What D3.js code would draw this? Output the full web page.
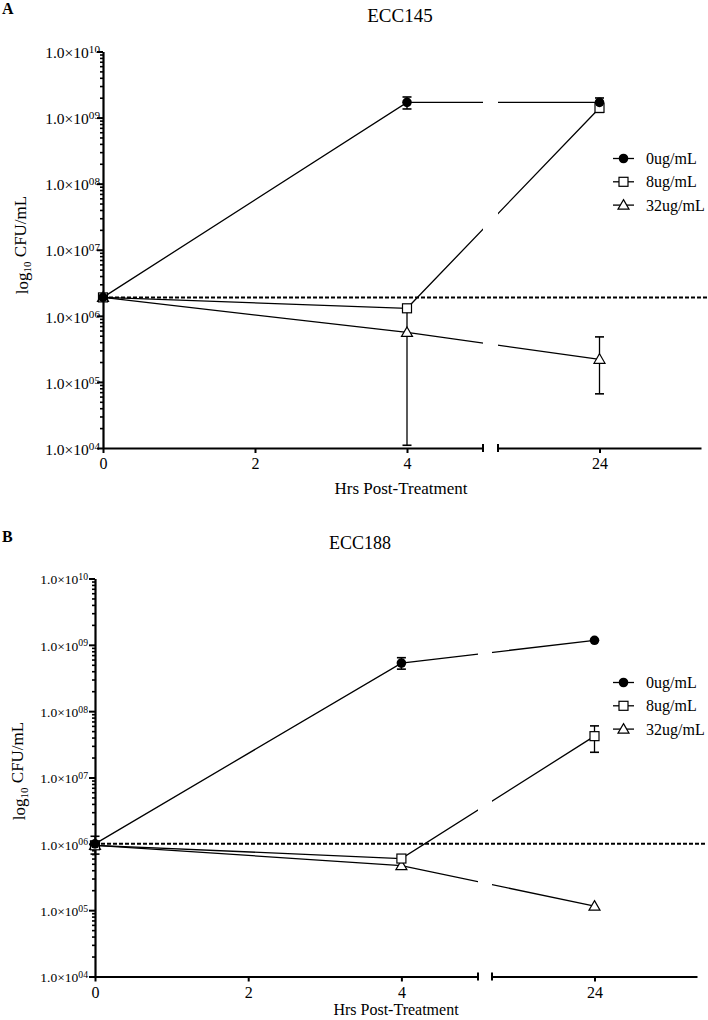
<!DOCTYPE html>
<html><head><meta charset="utf-8">
<script src="https://cdn.jsdelivr.net/npm/d3@7"></script>
<style>
body{margin:0;background:#fff;}
text{font-family:"Liberation Serif","Times New Roman",serif;fill:#000;}
</style></head>
<body><svg id="c" width="708" height="1020"></svg>
<script>
// ---------- data ----------
const hours = [0, 4, 24];
const seriesNames = ["0ug/mL", "8ug/mL", "32ug/mL"];
const yTickValues = [1e4, 1e5, 1e6, 1e7, 1e8, 1e9, 1e10];
const yTickExponents = ["04", "05", "06", "07", "08", "09", "10"];
const xTickValuesLeft = [0, 2, 4];
const xTickValuesRight = [24];

// Panel A : ECC145
const titleA = "ECC145";
const a0 = [1.9e6, 1.7e9, 1.7e9];
const a0Lo = [null, 1.35e9, 1.45e9];
const a0Hi = [null, 2.05e9, 1.98e9];
const a8 = [1.9e6, 1.3e6, 1.4e9];
const a8Lo = [null, null, 1.2e9];
const a8Hi = [null, null, 1.6e9];
const a32 = [1.9e6, 5.6e5, 2.2e5];
const a32Lo = [null, 1.1e4, 6.6e4];
const a32Hi = [null, 1.2e6, 4.8e5];
const baselineA = 1.9e6;

// Panel B : ECC188
const titleB = "ECC188";
const b0 = [1.0e6, 5.3e8, 1.17e9];
const b0Lo = [0.7e6, 4.3e8, null];
const b0Hi = [1.3e6, 6.4e8, null];
const b8 = [0.95e6, 6.0e5, 4.2e7];
const b8Lo = [null, null, 2.4e7];
const b8Hi = [null, null, 6.0e7];
const b32 = [0.95e6, 4.7e5, 1.15e5];
const b32Lo = [null, null, null];
const b32Hi = [null, null, null];
const baselineB = 1.0e6;

// ---------- drawing ----------
const svg = d3.select("#c");

function panel(cfg) {
  const g = svg.append("g");
  const y = d3.scaleLog().domain([1e4, 1e10]).range([cfg.yBot, cfg.yTop]);
  const s1 = d3.scaleLinear().domain([0, 5]).range([cfg.x0, cfg.segEnd]);
  const s2 = d3.scaleLinear().domain([22, 26]).range([cfg.seg2Start, cfg.axisEnd]);
  const x = h => h <= 5 ? s1(h) : s2(h);

  // letter & title
  g.append("text").attr("x", 2).attr("y", cfg.letterY).attr("font-size", 16)
    .attr("font-weight", "bold").text(cfg.letter);
  g.append("text").attr("x", cfg.titleX).attr("y", cfg.titleY).attr("font-size", cfg.titleFont)
    .attr("text-anchor", "middle").text(cfg.title);

  // baseline dashed line
  g.append("line").attr("x1", cfg.x0).attr("x2", 707)
    .attr("y1", y(cfg.baseline)).attr("y2", y(cfg.baseline))
    .attr("stroke", "#000").attr("stroke-width", 2).attr("stroke-dasharray", "4,2");

  // y axis
  const minor = [];
  for (let e = 4; e < 10; e++) for (let m = 2; m <= 9; m++) minor.push(m * Math.pow(10, e));
  g.append("g").attr("transform", `translate(${cfg.x0},0)`)
    .call(d3.axisLeft(y).tickValues(minor).tickSize(3).tickFormat(() => "").tickSizeOuter(0))
    .call(a => { a.select(".domain").remove(); a.selectAll("line").attr("stroke-width", 1.6); });
  const ya = g.append("g").attr("transform", `translate(${cfg.x0},0)`)
    .call(d3.axisLeft(y).tickValues(yTickValues).tickSize(6).tickFormat(() => "").tickSizeOuter(0));
  ya.select(".domain").attr("stroke-width", 2.2);
  ya.selectAll("line").attr("stroke-width", 2);
  ya.selectAll(".tick").each(function (d) {
    const t = d3.select(this).select("text").attr("x", cfg.tickLabelX).attr("dy", "0.4em")
      .attr("font-size", cfg.tickFont).attr("font-family", "Liberation Serif").attr("fill", "#000");
    t.text(null);
    t.append("tspan").text("1.0\u00d710");
    t.append("tspan").attr("dy", "-0.45em").attr("font-size", cfg.tickFont * 0.72)
      .text(yTickExponents[yTickValues.indexOf(d)]);
  });

  // x axis
  const xa1 = g.append("g").attr("transform", `translate(0,${cfg.yBot})`)
    .call(d3.axisBottom(s1).tickValues(xTickValuesLeft).tickFormat(d3.format("d")).tickSize(5).tickSizeOuter(0).tickPadding(5));
  const xa2 = g.append("g").attr("transform", `translate(0,${cfg.yBot})`)
    .call(d3.axisBottom(s2).tickValues(xTickValuesRight).tickFormat(d3.format("d")).tickSize(5).tickSizeOuter(0).tickPadding(5));
  [xa1, xa2].forEach(a => {
    a.select(".domain").attr("stroke-width", 2.2);
    a.selectAll("line").attr("stroke-width", 2);
    a.selectAll("text").attr("font-size", cfg.xTickFont).attr("font-family", "Liberation Serif").attr("fill", "#000");
  });
  [cfg.segEnd, cfg.seg2Start].forEach(px => {
    g.append("line").attr("x1", px).attr("x2", px).attr("y1", cfg.yBot - 4).attr("y2", cfg.yBot + 4)
      .attr("stroke", "#000").attr("stroke-width", 2);
  });
  g.append("text").attr("x", cfg.xTitleX).attr("y", cfg.xTitleY)
    .attr("font-size", cfg.xTitleFont).attr("text-anchor", "middle").text("Hrs Post-Treatment");

  // y title
  const yt = g.append("text").attr("transform", `translate(${cfg.yTitleX},${cfg.yTitleY}) rotate(-90)`)
    .attr("font-size", 17).attr("text-anchor", "middle");
  yt.append("tspan").text("log");
  yt.append("tspan").attr("dy", "0.3em").attr("font-size", 11).text("10");
  yt.append("tspan").attr("dy", "-0.3em").text(" CFU/mL");

  // clip for broken axis
  const cid = "clip" + cfg.letter;
  const cp = g.append("clipPath").attr("id", cid);
  cp.append("rect").attr("x", 0).attr("y", 0).attr("width", cfg.segEnd).attr("height", 1020);
  cp.append("rect").attr("x", cfg.seg2Start).attr("y", 0).attr("width", 708 - cfg.seg2Start).attr("height", 1020);

  const line = d3.line().x((d, i) => x(hours[i])).y(d => y(d));
  const series = [
    { v: cfg.s0, lo: cfg.s0Lo, hi: cfg.s0Hi, sym: "circle" },
    { v: cfg.s8, lo: cfg.s8Lo, hi: cfg.s8Hi, sym: "square" },
    { v: cfg.s32, lo: cfg.s32Lo, hi: cfg.s32Hi, sym: "triangle" }
  ];
  series.forEach(s => {
    g.append("path").attr("d", line(s.v)).attr("fill", "none").attr("stroke", "#000")
      .attr("stroke-width", 1.3).attr("clip-path", `url(#${cid})`);
  });
  // error bars
  series.forEach(s => {
    s.v.forEach((v, i) => {
      if (s.lo[i] == null) return;
      const cx = x(hours[i]);
      g.append("line").attr("x1", cx).attr("x2", cx).attr("y1", y(s.lo[i])).attr("y2", y(s.hi[i]))
        .attr("stroke", "#000").attr("stroke-width", 1.3);
      [s.lo[i], s.hi[i]].forEach(e => g.append("line").attr("x1", cx - 4.5).attr("x2", cx + 4.5)
        .attr("y1", y(e)).attr("y2", y(e)).attr("stroke", "#000").attr("stroke-width", 1.6));
    });
  });
  function marker(sel, sym, cx, cy) {
    if (sym === "circle") sel.append("circle").attr("cx", cx).attr("cy", cy).attr("r", 4.8).attr("fill", "#000");
    else if (sym === "square") sel.append("rect").attr("x", cx - 4.5).attr("y", cy - 4.5).attr("width", 9).attr("height", 9)
      .attr("fill", "#fff").attr("stroke", "#000").attr("stroke-width", 1.2);
    else sel.append("path").attr("d", `M${cx},${cy - 5.5}L${cx + 5.5},${cy + 4}L${cx - 5.5},${cy + 4}Z`)
      .attr("fill", "#fff").attr("stroke", "#000").attr("stroke-width", 1.2);
  }
  [series[2], series[1], series[0]].forEach(s => s.v.forEach((v, i) => marker(g, s.sym, x(hours[i]), y(v))));

  // legend
  seriesNames.forEach((n, i) => {
    const ly = cfg.legY + i * 23.3;
    g.append("line").attr("x1", 613).attr("x2", 634).attr("y1", ly).attr("y2", ly)
      .attr("stroke", "#000").attr("stroke-width", 1.3);
    marker(g, series[i].sym, 623.5, ly);
    g.append("text").attr("x", 646).attr("y", ly).attr("dy", "0.35em").attr("font-size", 16).text(n);
  });
}

panel({
  letter: "A", letterY: 14, title: titleA, titleX: 400, titleY: 22, titleFont: 19,
  yTop: 51.5, yBot: 448, x0: 103, segEnd: 483, seg2Start: 498, axisEnd: 701,
  baseline: baselineA, tickFont: 15.5, tickLabelX: -3, xTickFont: 16,
  xTitleX: 401, xTitleY: 494, xTitleFont: 17, yTitleX: 28, yTitleY: 245,
  s0: a0, s0Lo: a0Lo, s0Hi: a0Hi, s8: a8, s8Lo: a8Lo, s8Hi: a8Hi, s32: a32, s32Lo: a32Lo, s32Hi: a32Hi,
  legY: 158.5
});
panel({
  letter: "B", letterY: 542, title: titleB, titleX: 360, titleY: 549, titleFont: 18,
  yTop: 578.5, yBot: 976.5, x0: 95, segEnd: 478, seg2Start: 492, axisEnd: 697,
  baseline: baselineB, tickFont: 13.5, tickLabelX: -7, xTickFont: 16,
  xTitleX: 396, xTitleY: 1015, xTitleFont: 16, yTitleX: 25, yTitleY: 771,
  s0: b0, s0Lo: b0Lo, s0Hi: b0Hi, s8: b8, s8Lo: b8Lo, s8Hi: b8Hi, s32: b32, s32Lo: b32Lo, s32Hi: b32Hi,
  legY: 682.5
});
</script></body></html>
